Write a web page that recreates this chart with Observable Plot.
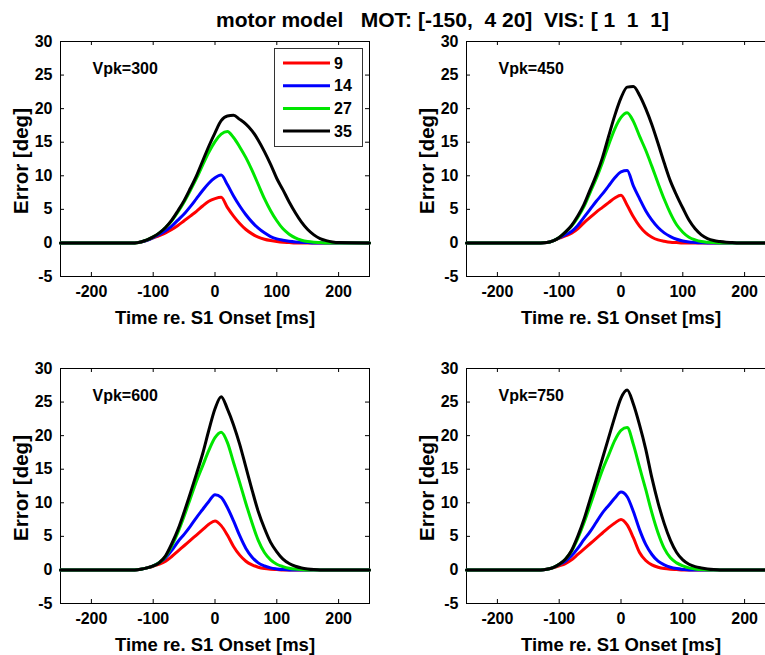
<!DOCTYPE html>
<html>
<head>
<meta charset="utf-8">
<script src="https://cdn.jsdelivr.net/npm/d3@7"></script>
<script src="https://cdn.jsdelivr.net/npm/@observablehq/plot@0.6"></script>
<style>
  html, body { margin: 0; padding: 0; background: #fff; overflow: hidden; }
  #wrap { position: relative; width: 765px; height: 655px; overflow: hidden; font-family: "Liberation Sans", Arial, Helvetica, sans-serif; }
  #wrap > svg { position: absolute; }
</style>
</head>
<body>
<div id="wrap"></div>
<script>
// ---------- data ----------
const titleText = "motor model   MOT: [-150,  4 20]  VIS: [ 1  1  1]";
const xLabel = "Time re. S1 Onset [ms]";
const yLabel = "Error [deg]";
const xTicks = [-200, -100, 0, 100, 200];
const yTicks = [-5, 0, 5, 10, 15, 20, 25, 30];
const seriesNames = ["9", "14", "27", "35"];
const seriesColors = ["#ff0000", "#0000ff", "#00e600", "#000000"];
const vpk = [300, 450, 600, 750];

// time grid (ms)
const time = [-250, -130, -120, -110, -100, -90, -80, -70, -60, -50, -40, -30, -20, -10, 0, 10, 20, 30, 40, 50, 60, 70, 80, 90, 100, 110, 120, 130, 140, 150, 160, 170, 180, 190, 200, 250];

// Vpk = 300
const v300_9  = [0, 0,0.15,0.4,0.75,1.1,1.5,2.0,2.6,3.3,4.0,4.7,5.5,6.2,6.6,6.8,5.3,4.0,2.9,2.0,1.35,0.85,0.55,0.35,0.2,0.1,0.05,0,0,0,0,0,0,0,0, 0];
const v300_14 = [0, 0,0.15,0.4,0.8,1.25,1.8,2.5,3.4,4.3,5.4,6.6,7.8,8.9,9.7,10.1,8.7,7.0,5.5,4.2,3.1,2.2,1.5,0.95,0.6,0.4,0.25,0.15,0.1,0.05,0,0,0,0,0, 0];
const v300_27 = [0, 0,0.15,0.45,0.9,1.5,2.3,3.3,4.6,6.1,7.8,9.6,11.6,13.5,15.1,16.2,16.6,15.7,14.3,12.7,10.8,8.7,6.6,4.8,3.3,2.1,1.3,0.75,0.4,0.2,0.1,0.05,0,0,0, 0];
const v300_35 = [0, 0,0.15,0.45,0.9,1.5,2.3,3.4,4.8,6.3,8.1,10.0,12.2,14.4,16.4,18.2,18.9,19.0,18.4,17.7,16.7,15.3,13.6,11.7,9.6,7.9,6.1,4.5,3.1,2.0,1.2,0.65,0.35,0.15,0.05, 0];

// Vpk = 450
const v450_9  = [0, 0,0.05,0.3,0.7,1.05,1.45,2.1,3.0,3.8,4.6,5.3,6.0,6.7,7.1,5.6,3.9,2.5,1.5,0.85,0.45,0.25,0.1,0.05,0,0,0,0,0,0,0,0,0,0,0, 0];
const v450_14 = [0, 0,0.05,0.3,0.75,1.2,1.7,2.6,3.8,5.0,6.2,7.3,8.5,9.7,10.6,10.8,8.5,6.6,4.8,3.4,2.3,1.5,0.95,0.55,0.3,0.15,0.08,0.03,0,0,0,0,0,0,0, 0];
const v450_27 = [0, 0,0.05,0.3,0.8,1.6,2.5,3.8,5.4,7.5,9.6,12.0,14.6,17.0,18.7,19.4,18.1,15.9,13.8,11.4,8.9,6.5,4.4,2.7,1.6,0.85,0.45,0.2,0.1,0.05,0,0,0,0,0, 0];
const v450_35 = [0, 0,0.05,0.3,0.8,1.6,2.6,4.0,5.7,7.9,10.1,12.7,15.9,19.0,21.6,23.2,23.3,22.0,20.0,17.6,14.8,11.9,9.2,7.1,5.2,3.4,2.1,1.2,0.65,0.35,0.2,0.1,0.05,0,0, 0];

// Vpk = 600
const v600_9  = [0, 0,0.1,0.3,0.55,0.85,1.3,2.0,2.8,3.6,4.4,5.2,6.0,6.8,7.3,6.6,5.2,3.5,2.2,1.3,0.75,0.4,0.2,0.1,0.05,0,0,0,0,0,0,0,0,0,0, 0];
const v600_14 = [0, 0,0.1,0.3,0.6,1.1,1.8,2.9,4.2,5.3,6.5,7.8,9.0,10.2,11.2,10.8,9.3,7.3,5.1,3.2,1.9,1.05,0.6,0.3,0.15,0.05,0,0,0,0,0,0,0,0,0, 0];
const v600_27 = [0, 0,0.1,0.3,0.6,1.1,2.0,3.6,5.6,8.0,10.6,13.2,15.5,17.8,19.7,20.5,19.0,16.0,13.0,9.9,7.0,4.4,2.6,1.5,0.85,0.5,0.25,0.12,0.05,0,0,0,0,0,0, 0];
const v600_35 = [0, 0,0.1,0.3,0.6,1.1,2.1,3.9,6.0,8.6,11.4,14.3,17.3,20.8,24.0,25.8,24.0,21.6,18.7,15.3,11.9,8.7,6.2,4.1,2.7,1.6,0.95,0.55,0.3,0.15,0.05,0,0,0,0, 0];

// Vpk = 750
const v750_9  = [0, 0,0.1,0.3,0.6,0.95,1.5,2.3,3.1,3.9,4.7,5.5,6.3,7.0,7.5,6.7,4.8,2.6,1.4,0.75,0.4,0.2,0.1,0.05,0,0,0,0,0,0,0,0,0,0,0, 0];
const v750_14 = [0, 0,0.1,0.35,0.8,1.3,2.1,3.2,4.5,5.7,7.1,8.5,9.6,10.7,11.6,10.9,8.7,6.0,3.8,2.3,1.3,0.75,0.4,0.2,0.08,0,0,0,0,0,0,0,0,0,0, 0];
const v750_27 = [0, 0,0.1,0.35,0.85,1.6,2.8,4.7,7.0,9.6,12.3,14.9,17.1,19.3,20.8,21.2,18.7,15.3,12.0,8.5,5.5,3.2,1.8,1.05,0.6,0.3,0.15,0.05,0,0,0,0,0,0,0, 0];
const v750_35 = [0, 0,0.1,0.35,0.85,1.6,2.9,5.0,7.5,10.5,13.5,16.6,19.7,22.8,25.6,26.8,24.7,21.6,18.0,13.7,10.0,6.9,4.4,2.6,1.5,0.85,0.5,0.3,0.15,0.05,0,0,0,0,0, 0];

const panelSeries = {
  300: [v300_9, v300_14, v300_27, v300_35],
  450: [v450_9, v450_14, v450_27, v450_35],
  600: [v600_9, v600_14, v600_27, v600_35],
  750: [v750_9, v750_14, v750_27, v750_35]
};

// ---------- layout ----------
const FONT = '"Liberation Sans", Arial, Helvetica, sans-serif';
const W = 400, H = 330, ML = 60, MR = 31, MT = 41, MB = 54;
const innerW = W - ML - MR, innerH = H - MT - MB;
const positions = [[0, 0], [406, 0], [0, 327], [406, 327]];

const wrap = document.getElementById("wrap");

vpk.forEach((v, pi) => {
  const rows = [];
  panelSeries[v].forEach((vals, si) => {
    vals.forEach((e, i) => rows.push({t: time[i], e, s: seriesNames[si]}));
  });
  const chart = Plot.plot({
    width: W, height: H,
    marginLeft: ML, marginRight: MR, marginTop: MT, marginBottom: MB,
    x: {domain: [-250, 250]},
    y: {domain: [-5, 30]},
    color: {domain: seriesNames, range: seriesColors},
    style: {fontFamily: FONT, fontWeight: "bold", background: "transparent", overflow: "visible", color: "#000"},
    marks: [
      Plot.frame({stroke: "#000", strokeWidth: 1}),
      Plot.axisX(xTicks, {tickSize: 0, tickPadding: 9, fontSize: 16, fontWeight: "bold", tickFormat: d => String(d), label: null}),
      Plot.axisY(yTicks, {tickSize: 0, tickPadding: 8, fontSize: 16, fontWeight: "bold", tickFormat: d => String(d), label: null}),
      Plot.tickX(xTicks, {x: d => d, insetTop: innerH - 4, stroke: "#000"}),
      Plot.tickX(xTicks, {x: d => d, insetBottom: innerH - 4, stroke: "#000"}),
      Plot.tickY(yTicks, {y: d => d, insetRight: innerW - 4, stroke: "#000"}),
      Plot.tickY(yTicks, {y: d => d, insetLeft: innerW - 4, stroke: "#000"}),
      Plot.line(rows, {x: "t", y: "e", z: "s", stroke: "s", strokeWidth: 3, curve: "monotone-x"}),
      Plot.text([`Vpk=${v}`], {frameAnchor: "top-left", dx: 32, dy: 27.3, textAnchor: "start", lineAnchor: "middle", fontSize: 16, fontWeight: "bold", fill: "#000"}),
      Plot.text([xLabel], {frameAnchor: "bottom", dy: 47, lineAnchor: "bottom", fontSize: 18.5, fontWeight: "bold", fill: "#000"}),
      Plot.text([yLabel], {frameAnchor: "left", dx: -39, dy: 2, rotate: -90, lineAnchor: "middle", textAnchor: "middle", fontSize: 20.5, fontWeight: "bold", fill: "#000"})
    ]
  });
  chart.style.left = positions[pi][0] + "px";
  chart.style.top = positions[pi][1] + "px";
  wrap.appendChild(chart);
});

// ---------- overlay: title + legend ----------
const ov = d3.select(wrap).append("svg")
  .attr("width", 765).attr("height", 655)
  .style("left", "0px").style("top", "0px")
  .style("pointer-events", "none");

ov.append("text")
  .attr("x", 442.5).attr("y", 27.3)
  .attr("text-anchor", "middle")
  .style("white-space", "pre")
  .attr("font-family", FONT).attr("font-weight", "bold").attr("font-size", 21)
  .text(titleText);

const lg = ov.append("g").attr("transform", "translate(274.5,48.5)");
lg.append("rect").attr("width", 88).attr("height", 98).attr("fill", "#fff").attr("stroke", "#333").attr("stroke-width", 1);
seriesNames.forEach((name, i) => {
  const y = 14.5 + i * 22.7;
  lg.append("line").attr("x1", 8.5).attr("x2", 55.5).attr("y1", y).attr("y2", y)
    .attr("stroke", seriesColors[i]).attr("stroke-width", 3);
  lg.append("text").attr("x", 59.5).attr("y", y + 5.7)
    .attr("font-family", FONT).attr("font-weight", "bold").attr("font-size", 16)
    .text(name);
});
</script>
</body>
</html>
